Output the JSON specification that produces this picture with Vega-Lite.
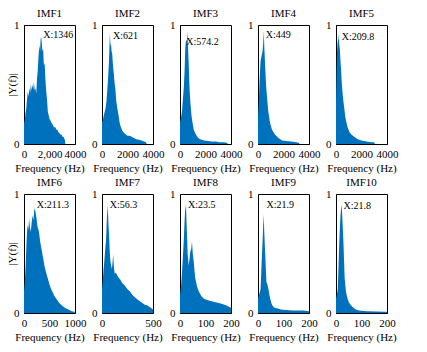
{
  "$schema": "https://vega.github.io/schema/vega-lite/v6.json",
  "background": "white",
  "padding": {"left": 6, "top": 7, "right": 5, "bottom": 5},
  "bounds": "flush",
  "columns": 5,
  "spacing": {"row": 50, "column": 27},
  "config": {
    "font": "Liberation Serif",
    "view": {"stroke": "black", "strokeWidth": 1},
    "axis": {"grid": false, "ticks": false, "tickSize": 0, "domainColor": "black", "labelColor": "black", "titleColor": "black", "labelFontSize": 11, "titleFontSize": 11, "titleFontWeight": 400, "labelPadding": 5, "labelFont": "Liberation Serif", "titleFont": "Liberation Serif", "labelFlush": false, "labelOverlap": false},
    "title": {"fontSize": 11, "fontWeight": 400, "font": "Liberation Serif", "offset": 0, "color": "black"},
    "text": {"font": "Liberation Serif", "fontSize": 10, "color": "black"},
    "area": {"color": "#0072BD", "interpolate": "linear"}
  },
  "concat": [
    {
      "width": 51, "height": 119, "title": {"text": "IMF1", "font": "Liberation Serif", "fontSize": 11, "fontWeight": 400, "color": "black", "offset": 0},
      "data": {"values": [
        {"f":0,"a":0.17},{"f":60,"a":0.2},{"f":120,"a":0.26},{"f":180,"a":0.3},{"f":240,"a":0.38},{"f":300,"a":0.44},{"f":360,"a":0.4},{"f":420,"a":0.47},{"f":480,"a":0.43},{"f":540,"a":0.5},{"f":600,"a":0.45},{"f":660,"a":0.5},{"f":720,"a":0.46},{"f":780,"a":0.52},{"f":840,"a":0.45},{"f":900,"a":0.47},{"f":960,"a":0.42},{"f":1020,"a":0.55},{"f":1080,"a":0.62},{"f":1140,"a":0.74},{"f":1200,"a":0.83},{"f":1260,"a":0.78},{"f":1300,"a":0.88},{"f":1346,"a":0.9},{"f":1400,"a":0.84},{"f":1450,"a":0.78},{"f":1500,"a":0.8},{"f":1560,"a":0.66},{"f":1620,"a":0.68},{"f":1680,"a":0.54},{"f":1740,"a":0.45},{"f":1800,"a":0.38},{"f":1870,"a":0.27},{"f":1940,"a":0.24},{"f":2000,"a":0.21},{"f":2070,"a":0.2},{"f":2140,"a":0.18},{"f":2220,"a":0.17},{"f":2300,"a":0.15},{"f":2380,"a":0.14},{"f":2460,"a":0.14},{"f":2540,"a":0.12},{"f":2620,"a":0.12},{"f":2700,"a":0.1},{"f":2780,"a":0.09},{"f":2860,"a":0.08},{"f":2940,"a":0.08},{"f":3020,"a":0.06},{"f":3100,"a":0.06},{"f":3180,"a":0.04},{"f":3220,"a":0.03},{"f":3240,"a":0}
      ]},
      "encoding": {
        "x": {"field": "f", "type": "quantitative", "scale": {"domain": [0, 4000]}, "axis": {"values": [0, 2000, 4000], "labelExpr": "datum.value == 2000 ? '2,000' : format(datum.value, 'd')", "labelOverlap": false, "title": "Frequency (Hz)", "labelFont": "Liberation Serif", "titleFont": "Liberation Serif", "labelFontSize": 11, "titleFontSize": 11, "titleFontWeight": 400, "labelPadding": 4, "titlePadding": 3, "labelFlush": false, "ticks": false, "domainColor": "black", "labelColor": "black", "titleColor": "black"}},
        "y": {"field": "a", "type": "quantitative", "scale": {"domain": [0, 1]}, "axis": {"values": [0, 1], "format": "d", "labelOverlap": false, "title": "|Y(f)|", "labelFont": "Liberation Serif", "titleFont": "Liberation Serif", "labelFontSize": 11, "titleFontSize": 11, "titleFontWeight": 400, "labelPadding": 5, "titlePadding": -4, "labelFlush": false, "ticks": false, "domainColor": "black", "labelColor": "black", "titleColor": "black"}}
      },
      "layer": [
        {"mark": "area"},
        {"data": {"values": [{"f": 1346, "a": 0.92, "t": "X:1346"}]}, "mark": {"type": "text", "align": "left", "baseline": "middle", "dx": 2}, "encoding": {"text": {"field": "t"}}}
      ]
    },
    {
      "width": 51, "height": 119, "title": {"text": "IMF2", "font": "Liberation Serif", "fontSize": 11, "fontWeight": 400, "color": "black", "offset": 0},
      "data": {"values": [
        {"f":0,"a":0.18},{"f":70,"a":0.2},{"f":140,"a":0.24},{"f":210,"a":0.27},{"f":280,"a":0.3},{"f":350,"a":0.36},{"f":420,"a":0.46},{"f":480,"a":0.56},{"f":540,"a":0.68},{"f":580,"a":0.8},{"f":621,"a":0.94},{"f":660,"a":0.82},{"f":700,"a":0.85},{"f":750,"a":0.78},{"f":800,"a":0.76},{"f":860,"a":0.66},{"f":920,"a":0.6},{"f":980,"a":0.52},{"f":1050,"a":0.46},{"f":1120,"a":0.36},{"f":1200,"a":0.3},{"f":1300,"a":0.24},{"f":1380,"a":0.18},{"f":1460,"a":0.15},{"f":1560,"a":0.12},{"f":1660,"a":0.1},{"f":1760,"a":0.09},{"f":1880,"a":0.08},{"f":2000,"a":0.07},{"f":2150,"a":0.07},{"f":2330,"a":0.06},{"f":2500,"a":0.05},{"f":2700,"a":0.04},{"f":2900,"a":0.035},{"f":3100,"a":0.03},{"f":3300,"a":0.02},{"f":3450,"a":0.015},{"f":3500,"a":0}
      ]},
      "encoding": {
        "x": {"field": "f", "type": "quantitative", "scale": {"domain": [0, 4000]}, "axis": {"values": [0, 2000, 4000], "format": "d", "labelOverlap": false, "title": "Frequency (Hz)", "labelFont": "Liberation Serif", "titleFont": "Liberation Serif", "labelFontSize": 11, "titleFontSize": 11, "titleFontWeight": 400, "labelPadding": 4, "titlePadding": 3, "labelFlush": false, "ticks": false, "domainColor": "black", "labelColor": "black", "titleColor": "black"}},
        "y": {"field": "a", "type": "quantitative", "scale": {"domain": [0, 1]}, "axis": {"values": [0, 1], "format": "d", "title": null, "labelFont": "Liberation Serif", "labelFontSize": 11, "labelPadding": 5, "labelFlush": false, "ticks": false, "domainColor": "black", "labelColor": "black"}}
      },
      "layer": [
        {"mark": "area"},
        {"data": {"values": [{"f": 621, "a": 0.91, "t": "X:621"}]}, "mark": {"type": "text", "align": "left", "baseline": "middle", "dx": 3}, "encoding": {"text": {"field": "t"}}}
      ]
    },
    {
      "width": 51, "height": 119, "title": {"text": "IMF3", "font": "Liberation Serif", "fontSize": 11, "fontWeight": 400, "color": "black", "offset": 0},
      "data": {"values": [
        {"f":0,"a":0.18},{"f":80,"a":0.22},{"f":160,"a":0.28},{"f":230,"a":0.38},{"f":300,"a":0.48},{"f":360,"a":0.62},{"f":420,"a":0.82},{"f":480,"a":0.88},{"f":540,"a":0.86},{"f":574,"a":0.95},{"f":620,"a":0.84},{"f":680,"a":0.68},{"f":750,"a":0.46},{"f":820,"a":0.34},{"f":900,"a":0.24},{"f":980,"a":0.18},{"f":1080,"a":0.12},{"f":1200,"a":0.09},{"f":1350,"a":0.06},{"f":1500,"a":0.045},{"f":1700,"a":0.035},{"f":1900,"a":0.03},{"f":2200,"a":0.025},{"f":2500,"a":0.02},{"f":2800,"a":0.02},{"f":3100,"a":0.015},{"f":3400,"a":0.015},{"f":3700,"a":0.01},{"f":3750,"a":0}
      ]},
      "encoding": {
        "x": {"field": "f", "type": "quantitative", "scale": {"domain": [0, 4000]}, "axis": {"values": [0, 2000, 4000], "format": "d", "labelOverlap": false, "title": "Frequency (Hz)", "labelFont": "Liberation Serif", "titleFont": "Liberation Serif", "labelFontSize": 11, "titleFontSize": 11, "titleFontWeight": 400, "labelPadding": 4, "titlePadding": 3, "labelFlush": false, "ticks": false, "domainColor": "black", "labelColor": "black", "titleColor": "black"}},
        "y": {"field": "a", "type": "quantitative", "scale": {"domain": [0, 1]}, "axis": {"values": [0, 1], "format": "d", "title": null, "labelFont": "Liberation Serif", "labelFontSize": 11, "labelPadding": 5, "labelFlush": false, "ticks": false, "domainColor": "black", "labelColor": "black"}}
      },
      "layer": [
        {"mark": "area"},
        {"data": {"values": [{"f": 574.2, "a": 0.86, "t": "X:574.2"}]}, "mark": {"type": "text", "align": "left", "baseline": "middle", "dx": -1}, "encoding": {"text": {"field": "t"}}}
      ]
    },
    {
      "width": 51, "height": 119, "title": {"text": "IMF4", "font": "Liberation Serif", "fontSize": 11, "fontWeight": 400, "color": "black", "offset": 0},
      "data": {"values": [
        {"f":0,"a":0.22},{"f":60,"a":0.35},{"f":120,"a":0.52},{"f":200,"a":0.7},{"f":280,"a":0.74},{"f":355,"a":0.78},{"f":410,"a":0.85},{"f":449,"a":0.95},{"f":500,"a":0.8},{"f":560,"a":0.66},{"f":630,"a":0.5},{"f":710,"a":0.39},{"f":800,"a":0.28},{"f":880,"a":0.22},{"f":960,"a":0.17},{"f":1100,"a":0.12},{"f":1330,"a":0.08},{"f":1600,"a":0.05},{"f":1900,"a":0.03},{"f":2200,"a":0.025},{"f":2600,"a":0.02},{"f":3000,"a":0.015},{"f":3200,"a":0.01},{"f":3250,"a":0}
      ]},
      "encoding": {
        "x": {"field": "f", "type": "quantitative", "scale": {"domain": [0, 4000]}, "axis": {"values": [0, 2000, 4000], "format": "d", "labelOverlap": false, "title": "Frequency (Hz)", "labelFont": "Liberation Serif", "titleFont": "Liberation Serif", "labelFontSize": 11, "titleFontSize": 11, "titleFontWeight": 400, "labelPadding": 4, "titlePadding": 3, "labelFlush": false, "ticks": false, "domainColor": "black", "labelColor": "black", "titleColor": "black"}},
        "y": {"field": "a", "type": "quantitative", "scale": {"domain": [0, 1]}, "axis": {"values": [0, 1], "format": "d", "title": null, "labelFont": "Liberation Serif", "labelFontSize": 11, "labelPadding": 5, "labelFlush": false, "ticks": false, "domainColor": "black", "labelColor": "black"}}
      },
      "layer": [
        {"mark": "area"},
        {"data": {"values": [{"f": 449, "a": 0.92, "t": "X:449"}]}, "mark": {"type": "text", "align": "left", "baseline": "middle", "dx": 2}, "encoding": {"text": {"field": "t"}}}
      ]
    },
    {
      "width": 51, "height": 119, "title": {"text": "IMF5", "font": "Liberation Serif", "fontSize": 11, "fontWeight": 400, "color": "black", "offset": 0},
      "data": {"values": [
        {"f":0,"a":0.35},{"f":40,"a":0.6},{"f":80,"a":0.78},{"f":130,"a":0.86},{"f":180,"a":0.88},{"f":209.8,"a":0.92},{"f":250,"a":0.84},{"f":300,"a":0.8},{"f":350,"a":0.7},{"f":390,"a":0.64},{"f":450,"a":0.52},{"f":520,"a":0.42},{"f":590,"a":0.35},{"f":650,"a":0.3},{"f":740,"a":0.22},{"f":820,"a":0.18},{"f":910,"a":0.14},{"f":1050,"a":0.1},{"f":1200,"a":0.08},{"f":1430,"a":0.06},{"f":1700,"a":0.04},{"f":2000,"a":0.03},{"f":2400,"a":0.02},{"f":2800,"a":0.015},{"f":3000,"a":0.015},{"f":3050,"a":0}
      ]},
      "encoding": {
        "x": {"field": "f", "type": "quantitative", "scale": {"domain": [0, 4000]}, "axis": {"values": [0, 2000, 4000], "format": "d", "labelOverlap": false, "title": "Frequency (Hz)", "labelFont": "Liberation Serif", "titleFont": "Liberation Serif", "labelFontSize": 11, "titleFontSize": 11, "titleFontWeight": 400, "labelPadding": 4, "titlePadding": 3, "labelFlush": false, "ticks": false, "domainColor": "black", "labelColor": "black", "titleColor": "black"}},
        "y": {"field": "a", "type": "quantitative", "scale": {"domain": [0, 1]}, "axis": {"values": [0, 1], "format": "d", "title": null, "labelFont": "Liberation Serif", "labelFontSize": 11, "labelPadding": 5, "labelFlush": false, "ticks": false, "domainColor": "black", "labelColor": "black"}}
      },
      "layer": [
        {"mark": "area"},
        {"data": {"values": [{"f": 209.8, "a": 0.9, "t": "X:209.8"}]}, "mark": {"type": "text", "align": "left", "baseline": "middle", "dx": 3}, "encoding": {"text": {"field": "t"}}}
      ]
    },
    {
      "width": 51, "height": 119, "title": {"text": "IMF6", "font": "Liberation Serif", "fontSize": 11, "fontWeight": 400, "color": "black", "offset": 0},
      "data": {"values": [
        {"f":0,"a":0.18},{"f":15,"a":0.25},{"f":33,"a":0.4},{"f":50,"a":0.6},{"f":67,"a":0.74},{"f":85,"a":0.7},{"f":100,"a":0.79},{"f":117,"a":0.72},{"f":133,"a":0.68},{"f":150,"a":0.76},{"f":167,"a":0.82},{"f":185,"a":0.78},{"f":200,"a":0.86},{"f":211.3,"a":0.88},{"f":233,"a":0.83},{"f":250,"a":0.78},{"f":267,"a":0.72},{"f":285,"a":0.7},{"f":300,"a":0.66},{"f":317,"a":0.6},{"f":333,"a":0.56},{"f":350,"a":0.52},{"f":367,"a":0.48},{"f":385,"a":0.44},{"f":400,"a":0.4},{"f":433,"a":0.34},{"f":467,"a":0.29},{"f":500,"a":0.24},{"f":533,"a":0.2},{"f":567,"a":0.17},{"f":600,"a":0.14},{"f":650,"a":0.11},{"f":700,"a":0.08},{"f":750,"a":0.06},{"f":800,"a":0.045},{"f":870,"a":0.03},{"f":933,"a":0.015},{"f":990,"a":0.01},{"f":1000,"a":0}
      ]},
      "encoding": {
        "x": {"field": "f", "type": "quantitative", "scale": {"domain": [0, 1000]}, "axis": {"values": [0, 500, 1000], "format": "d", "labelOverlap": false, "title": "Frequency (Hz)", "labelFont": "Liberation Serif", "titleFont": "Liberation Serif", "labelFontSize": 11, "titleFontSize": 11, "titleFontWeight": 400, "labelPadding": 4, "titlePadding": 3, "labelFlush": false, "ticks": false, "domainColor": "black", "labelColor": "black", "titleColor": "black"}},
        "y": {"field": "a", "type": "quantitative", "scale": {"domain": [0, 1]}, "axis": {"values": [0, 1], "format": "d", "title": "|Y(f)|", "labelFont": "Liberation Serif", "titleFont": "Liberation Serif", "labelFontSize": 11, "titleFontSize": 11, "titleFontWeight": 400, "labelPadding": 5, "titlePadding": -4, "labelFlush": false, "ticks": false, "domainColor": "black", "labelColor": "black", "titleColor": "black"}}
      },
      "layer": [
        {"mark": "area"},
        {"data": {"values": [{"f": 211.3, "a": 0.91, "t": "X:211.3"}]}, "mark": {"type": "text", "align": "left", "baseline": "middle", "dx": 2}, "encoding": {"text": {"field": "t"}}}
      ]
    },
    {
      "width": 51, "height": 119, "title": {"text": "IMF7", "font": "Liberation Serif", "fontSize": 11, "fontWeight": 400, "color": "black", "offset": 0},
      "data": {"values": [
        {"f":0,"a":0.2},{"f":8,"a":0.28},{"f":16,"a":0.37},{"f":24,"a":0.45},{"f":32,"a":0.54},{"f":40,"a":0.62},{"f":48,"a":0.8},{"f":56.3,"a":0.91},{"f":63,"a":0.75},{"f":70,"a":0.64},{"f":77,"a":0.5},{"f":83,"a":0.43},{"f":90,"a":0.4},{"f":96,"a":0.37},{"f":103,"a":0.42},{"f":110,"a":0.49},{"f":117,"a":0.38},{"f":125,"a":0.33},{"f":135,"a":0.34},{"f":147,"a":0.32},{"f":160,"a":0.3},{"f":180,"a":0.28},{"f":200,"a":0.25},{"f":225,"a":0.23},{"f":250,"a":0.2},{"f":275,"a":0.18},{"f":300,"a":0.15},{"f":325,"a":0.13},{"f":355,"a":0.11},{"f":385,"a":0.09},{"f":420,"a":0.07},{"f":450,"a":0.06},{"f":485,"a":0.04},{"f":500,"a":0.03}
      ]},
      "encoding": {
        "x": {"field": "f", "type": "quantitative", "scale": {"domain": [0, 500]}, "axis": {"values": [0, 500], "format": "d", "labelOverlap": false, "title": "Frequency (Hz)", "labelFont": "Liberation Serif", "titleFont": "Liberation Serif", "labelFontSize": 11, "titleFontSize": 11, "titleFontWeight": 400, "labelPadding": 4, "titlePadding": 3, "labelFlush": false, "ticks": false, "domainColor": "black", "labelColor": "black", "titleColor": "black"}},
        "y": {"field": "a", "type": "quantitative", "scale": {"domain": [0, 1]}, "axis": {"values": [0, 1], "format": "d", "title": null, "labelFont": "Liberation Serif", "labelFontSize": 11, "labelPadding": 5, "labelFlush": false, "ticks": false, "domainColor": "black", "labelColor": "black"}}
      },
      "layer": [
        {"mark": "area"},
        {"data": {"values": [{"f": 56.3, "a": 0.91, "t": "X:56.3"}]}, "mark": {"type": "text", "align": "left", "baseline": "middle", "dx": 2}, "encoding": {"text": {"field": "t"}}}
      ]
    },
    {
      "width": 51, "height": 119, "title": {"text": "IMF8", "font": "Liberation Serif", "fontSize": 11, "fontWeight": 400, "color": "black", "offset": 0},
      "data": {"values": [
        {"f":0,"a":0.15},{"f":4,"a":0.22},{"f":8,"a":0.35},{"f":11,"a":0.46},{"f":15,"a":0.62},{"f":18,"a":0.78},{"f":20,"a":0.86},{"f":23.5,"a":0.91},{"f":27,"a":0.68},{"f":30,"a":0.5},{"f":34,"a":0.4},{"f":37,"a":0.45},{"f":40,"a":0.51},{"f":44,"a":0.54},{"f":47,"a":0.6},{"f":50,"a":0.5},{"f":54,"a":0.43},{"f":57,"a":0.35},{"f":60,"a":0.29},{"f":67,"a":0.22},{"f":74,"a":0.18},{"f":84,"a":0.14},{"f":94,"a":0.12},{"f":107,"a":0.11},{"f":120,"a":0.1},{"f":140,"a":0.09},{"f":160,"a":0.08},{"f":180,"a":0.065},{"f":194,"a":0.05},{"f":200,"a":0.045}
      ]},
      "encoding": {
        "x": {"field": "f", "type": "quantitative", "scale": {"domain": [0, 200]}, "axis": {"values": [0, 100, 200], "format": "d", "labelOverlap": false, "title": "Frequency (Hz)", "labelFont": "Liberation Serif", "titleFont": "Liberation Serif", "labelFontSize": 11, "titleFontSize": 11, "titleFontWeight": 400, "labelPadding": 4, "titlePadding": 3, "labelFlush": false, "ticks": false, "domainColor": "black", "labelColor": "black", "titleColor": "black"}},
        "y": {"field": "a", "type": "quantitative", "scale": {"domain": [0, 1]}, "axis": {"values": [0, 1], "format": "d", "title": null, "labelFont": "Liberation Serif", "labelFontSize": 11, "labelPadding": 5, "labelFlush": false, "ticks": false, "domainColor": "black", "labelColor": "black"}}
      },
      "layer": [
        {"mark": "area"},
        {"data": {"values": [{"f": 23.5, "a": 0.91, "t": "X:23.5"}]}, "mark": {"type": "text", "align": "left", "baseline": "middle", "dx": 2}, "encoding": {"text": {"field": "t"}}}
      ]
    },
    {
      "width": 51, "height": 119, "title": {"text": "IMF9", "font": "Liberation Serif", "fontSize": 11, "fontWeight": 400, "color": "black", "offset": 0},
      "data": {"values": [
        {"f":0,"a":0.12},{"f":5,"a":0.16},{"f":10,"a":0.2},{"f":15,"a":0.46},{"f":19,"a":0.66},{"f":21.9,"a":0.83},{"f":25,"a":0.66},{"f":28,"a":0.51},{"f":31,"a":0.36},{"f":33,"a":0.26},{"f":37,"a":0.24},{"f":41,"a":0.2},{"f":45,"a":0.15},{"f":48,"a":0.12},{"f":53,"a":0.08},{"f":57,"a":0.06},{"f":65,"a":0.045},{"f":75,"a":0.04},{"f":89,"a":0.03},{"f":110,"a":0.025},{"f":140,"a":0.02},{"f":178,"a":0.02},{"f":200,"a":0.015}
      ]},
      "encoding": {
        "x": {"field": "f", "type": "quantitative", "scale": {"domain": [0, 200]}, "axis": {"values": [0, 100, 200], "format": "d", "labelOverlap": false, "title": "Frequency (Hz)", "labelFont": "Liberation Serif", "titleFont": "Liberation Serif", "labelFontSize": 11, "titleFontSize": 11, "titleFontWeight": 400, "labelPadding": 4, "titlePadding": 3, "labelFlush": false, "ticks": false, "domainColor": "black", "labelColor": "black", "titleColor": "black"}},
        "y": {"field": "a", "type": "quantitative", "scale": {"domain": [0, 1]}, "axis": {"values": [0, 1], "format": "d", "title": null, "labelFont": "Liberation Serif", "labelFontSize": 11, "labelPadding": 5, "labelFlush": false, "ticks": false, "domainColor": "black", "labelColor": "black"}}
      },
      "layer": [
        {"mark": "area"},
        {"data": {"values": [{"f": 21.9, "a": 0.91, "t": "X:21.9"}]}, "mark": {"type": "text", "align": "left", "baseline": "middle", "dx": 3}, "encoding": {"text": {"field": "t"}}}
      ]
    },
    {
      "width": 51, "height": 119, "title": {"text": "IMF10", "font": "Liberation Serif", "fontSize": 11, "fontWeight": 400, "color": "black", "offset": 0},
      "data": {"values": [
        {"f":0,"a":0.12},{"f":4,"a":0.16},{"f":7,"a":0.2},{"f":10,"a":0.4},{"f":13,"a":0.6},{"f":17,"a":0.8},{"f":20,"a":0.88},{"f":21.8,"a":0.91},{"f":24,"a":0.84},{"f":27,"a":0.7},{"f":29,"a":0.6},{"f":32,"a":0.42},{"f":34,"a":0.29},{"f":39,"a":0.18},{"f":44,"a":0.13},{"f":50,"a":0.09},{"f":57,"a":0.07},{"f":65,"a":0.05},{"f":78,"a":0.03},{"f":91,"a":0.02},{"f":120,"a":0.015},{"f":160,"a":0.012},{"f":189,"a":0.01},{"f":200,"a":0.01}
      ]},
      "encoding": {
        "x": {"field": "f", "type": "quantitative", "scale": {"domain": [0, 200]}, "axis": {"values": [0, 100, 200], "format": "d", "labelOverlap": false, "title": "Frequency (Hz)", "labelFont": "Liberation Serif", "titleFont": "Liberation Serif", "labelFontSize": 11, "titleFontSize": 11, "titleFontWeight": 400, "labelPadding": 4, "titlePadding": 3, "labelFlush": false, "ticks": false, "domainColor": "black", "labelColor": "black", "titleColor": "black"}},
        "y": {"field": "a", "type": "quantitative", "scale": {"domain": [0, 1]}, "axis": {"values": [0, 1], "format": "d", "title": null, "labelFont": "Liberation Serif", "labelFontSize": 11, "labelPadding": 5, "labelFlush": false, "ticks": false, "domainColor": "black", "labelColor": "black"}}
      },
      "layer": [
        {"mark": "area"},
        {"data": {"values": [{"f": 21.8, "a": 0.9, "t": "X:21.8"}]}, "mark": {"type": "text", "align": "left", "baseline": "middle", "dx": 2}, "encoding": {"text": {"field": "t"}}}
      ]
    }
  ]
}
